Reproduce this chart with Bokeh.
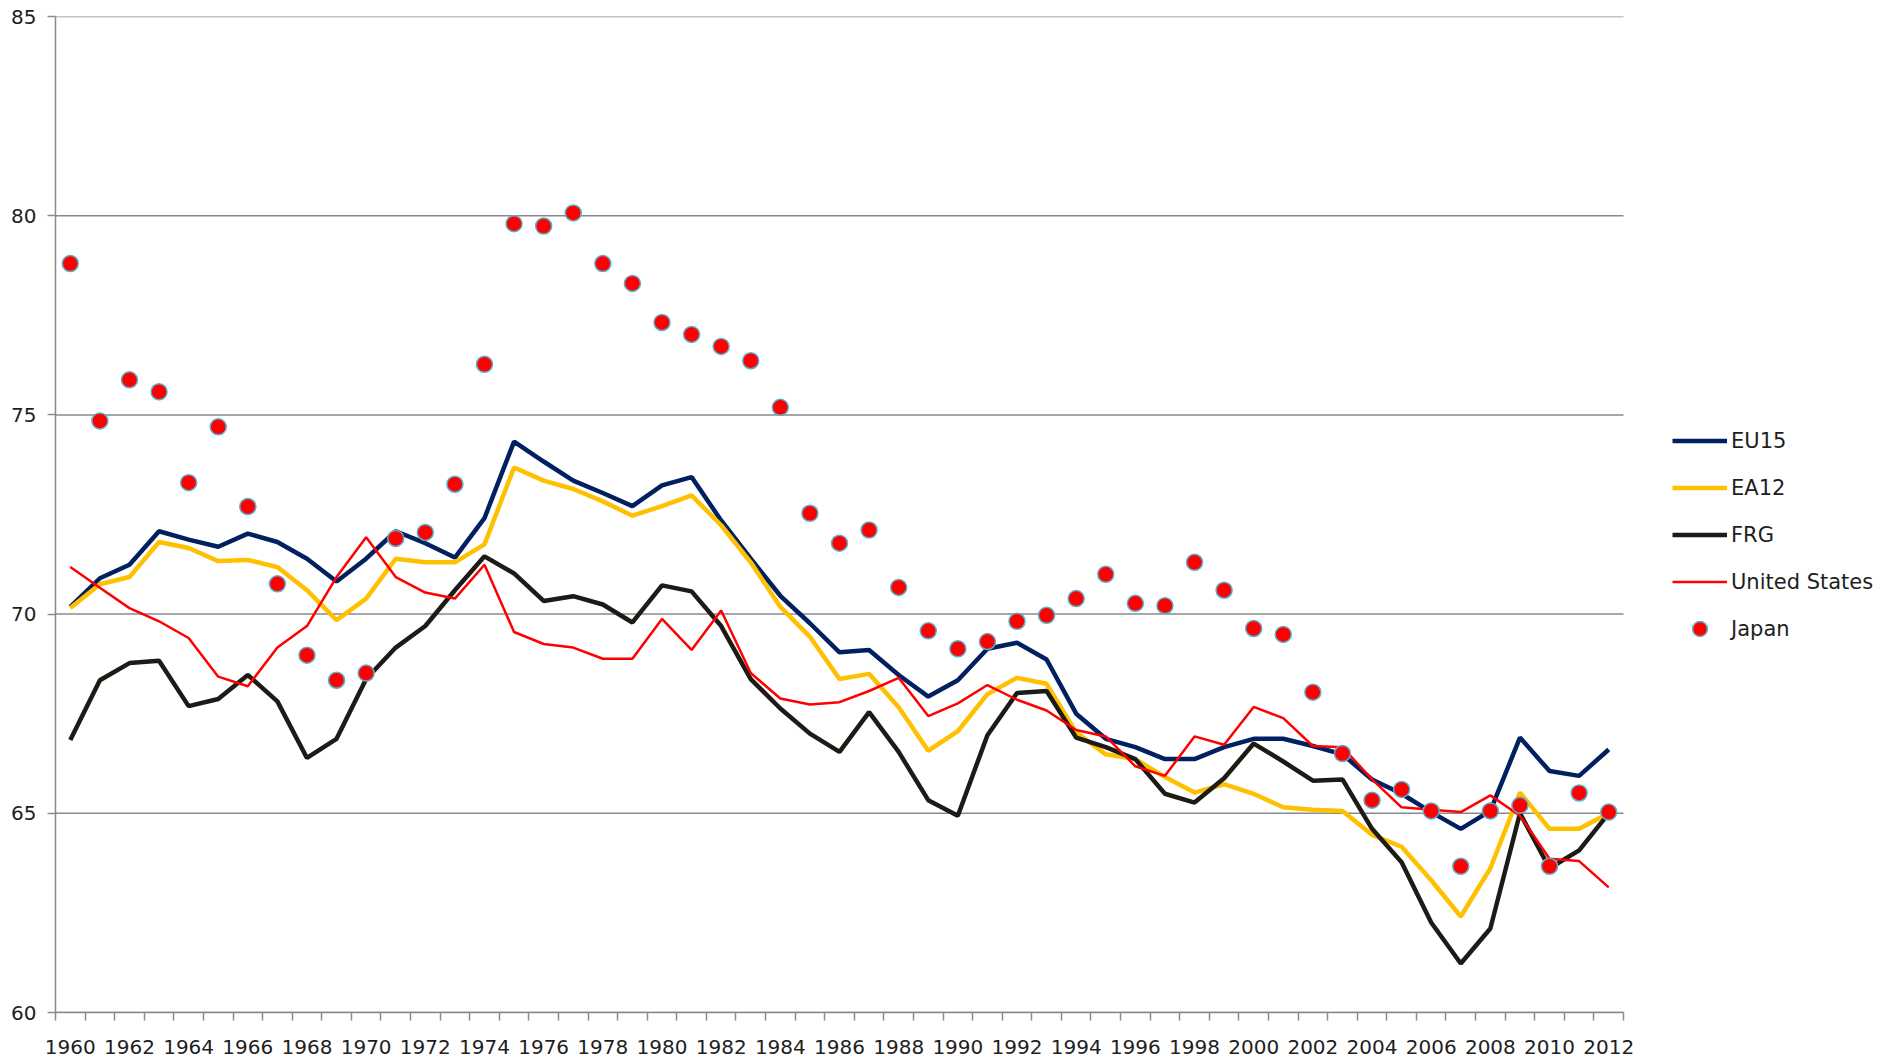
from bokeh.plotting import figure
from bokeh.models import Range1d, FixedTicker, Legend, LegendItem
from bokeh.embed import file_html
from bokeh.resources import INLINE

years = list(range(1960, 2013))

eu15 = [70.18, 70.90, 71.24, 72.08, 71.87, 71.69, 72.02, 71.81, 71.39, 70.82,
        71.39, 72.08, 71.78, 71.42, 72.41, 74.33, 73.83, 73.35, 73.04, 72.71,
        73.23, 73.44, 72.35, 71.39, 70.46, 69.77, 69.04, 69.10, 68.47, 67.93,
        68.34, 69.13, 69.28, 68.86, 67.50, 66.87, 66.66, 66.36, 66.36, 66.66,
        66.87, 66.87, 66.69, 66.48, 65.85, 65.49, 65.03, 64.61, 65.06, 66.90,
        66.06, 65.94, 66.60]

ea12 = [70.15, 70.75, 70.93, 71.81, 71.66, 71.33, 71.36, 71.18, 70.60, 69.85,
        70.39, 71.39, 71.30, 71.30, 71.75, 73.68, 73.35, 73.14, 72.83, 72.47,
        72.71, 72.98, 72.23, 71.30, 70.18, 69.43, 68.37, 68.50, 67.66, 66.57,
        67.06, 67.99, 68.40, 68.25, 67.03, 66.48, 66.36, 65.91, 65.52, 65.73,
        65.49, 65.15, 65.09, 65.06, 64.46, 64.16, 63.32, 62.41, 63.62, 65.52,
        64.61, 64.61, 65.00]

frg = [66.84, 68.34, 68.77, 68.83, 67.69, 67.87, 68.47, 67.81, 66.39, 66.87,
       68.37, 69.16, 69.70, 70.60, 71.45, 71.02, 70.33, 70.45, 70.24, 69.79,
       70.72, 70.57, 69.70, 68.37, 67.63, 67.00, 66.54, 67.54, 66.54, 65.33,
       64.94, 66.96, 68.02, 68.07, 66.90, 66.66, 66.36, 65.49, 65.27, 65.88,
       66.75, 66.30, 65.82, 65.85, 64.61, 63.77, 62.26, 61.23, 62.11, 65.00,
       63.62, 64.07, 65.00]

usa = [71.18, 70.66, 70.15, 69.82, 69.40, 68.43, 68.19, 69.16, 69.70, 70.93,
       71.93, 70.93, 70.54, 70.39, 71.24, 69.55, 69.25, 69.16, 68.88, 68.88,
       69.88, 69.10, 70.09, 68.52, 67.88, 67.73, 67.79, 68.07, 68.40, 67.44,
       67.76, 68.22, 67.85, 67.58, 67.09, 66.93, 66.18, 65.94, 66.93, 66.72,
       67.67, 67.39, 66.69, 66.66, 65.85, 65.15, 65.09, 65.03, 65.45, 64.94,
       63.86, 63.80, 63.14]

japan = [78.80, 74.85, 75.88, 75.58, 73.30, 74.70, 72.70, 70.76, 68.97, 68.34,
         68.52, 71.90, 72.05, 73.26, 76.27, 79.80, 79.74, 80.07, 78.80, 78.30,
         77.32, 77.02, 76.72, 76.36, 75.19, 72.53, 71.78, 72.11, 70.67, 69.58,
         69.13, 69.31, 69.82, 69.97, 70.39, 71.00, 70.27, 70.21, 71.30, 70.60,
         69.64, 69.49, 68.04, 66.50, 65.33, 65.60, 65.06, 63.67, 65.06, 65.20,
         63.67, 65.51, 65.03]

y_ticks = [60, 65, 70, 75, 80, 85]
x_label_years = list(range(1960, 2013, 2))

FONT = "DejaVu Sans"
TEXT = "#1e1e1e"
GRID = "#8a8a8a"

W, H = 1883, 1060
LEFT, TOP, BOTTOM = 55, 16, 48
PLOT_W = 1568  # width of the category area in pixels

x_start = years[0] - 0.5
x_stop = years[-1] + 0.5
px_per_year = PLOT_W / (x_stop - x_start)
# the frame runs to the right edge so the legend can sit in it; the
# category axis and grid stop at the last year
x_end = x_stop + (W - LEFT - PLOT_W) / px_per_year

p = figure(width=W, height=H, output_backend="svg", toolbar_location=None,
           x_range=Range1d(x_start, x_end), y_range=Range1d(60, 85),
           min_border_left=LEFT, min_border_right=0, min_border_top=TOP,
           min_border_bottom=BOTTOM)
p.outline_line_color = None
p.background_fill_color = "white"
p.border_fill_color = "white"
p.xgrid.grid_line_color = None
p.ygrid.grid_line_color = None

# horizontal grid lines limited to the category area
p.segment(x0=[x_start] * len(y_ticks), x1=[x_stop] * len(y_ticks),
          y0=y_ticks, y1=y_ticks, line_color=GRID, line_width=1.5)

# x axis: tick marks between categories, labels every second year
p.xaxis.bounds = (x_start, x_stop)
p.xaxis.ticker = FixedTicker(ticks=x_label_years,
                             minor_ticks=[y - 0.5 for y in years] + [x_stop])
p.xaxis.major_tick_line_color = None
p.xaxis.major_tick_out = 0
p.xaxis.major_tick_in = 0
p.xaxis.minor_tick_line_color = GRID
p.xaxis.minor_tick_line_width = 1.5
p.xaxis.minor_tick_out = 8
p.xaxis.minor_tick_in = 0
p.xaxis.axis_line_color = GRID
p.xaxis.axis_line_width = 1.5
p.xaxis.major_label_standoff = 19
p.xaxis.major_label_text_font = FONT
p.xaxis.major_label_text_font_size = "20px"
p.xaxis.major_label_text_color = TEXT

# y axis
p.yaxis.ticker = FixedTicker(ticks=y_ticks, minor_ticks=[])
p.yaxis.major_tick_line_color = GRID
p.yaxis.major_tick_line_width = 1.5
p.yaxis.major_tick_out = 8
p.yaxis.major_tick_in = 0
p.yaxis.minor_tick_line_color = None
p.yaxis.axis_line_color = GRID
p.yaxis.axis_line_width = 1.5
p.yaxis.major_label_standoff = 11
p.yaxis.major_label_text_font = FONT
p.yaxis.major_label_text_font_size = "20px"
p.yaxis.major_label_text_color = TEXT

r_eu = p.line(years, eu15, line_color="#002060", line_width=4.5)
r_ea = p.line(years, ea12, line_color="#FFC000", line_width=4.5)
r_frg = p.line(years, frg, line_color="#1E1B16", line_width=4.5)
r_us = p.line(years, usa, line_color="#FF0000", line_width=2.5)
r_jp = p.scatter(years, japan, marker="circle", size=16, fill_color="#FF0000",
                 line_color="#5aaecb", line_width=1.5)

legend = Legend(items=[
    LegendItem(label="EU15", renderers=[r_eu]),
    LegendItem(label="EA12", renderers=[r_ea]),
    LegendItem(label="FRG", renderers=[r_frg]),
    LegendItem(label="United States", renderers=[r_us]),
    LegendItem(label="Japan", renderers=[r_jp]),
], location=(PLOT_W + 49, 365))
legend.glyph_width = 55
legend.glyph_height = 37
legend.label_height = 37
legend.spacing = 10
legend.label_standoff = 4
legend.padding = 0
legend.margin = 0
legend.border_line_color = None
legend.background_fill_alpha = 0
legend.label_text_font = FONT
legend.label_text_font_size = "21px"
legend.label_text_color = TEXT
p.add_layout(legend, "center")

open("out.html", "w").write(file_html(p, INLINE))
